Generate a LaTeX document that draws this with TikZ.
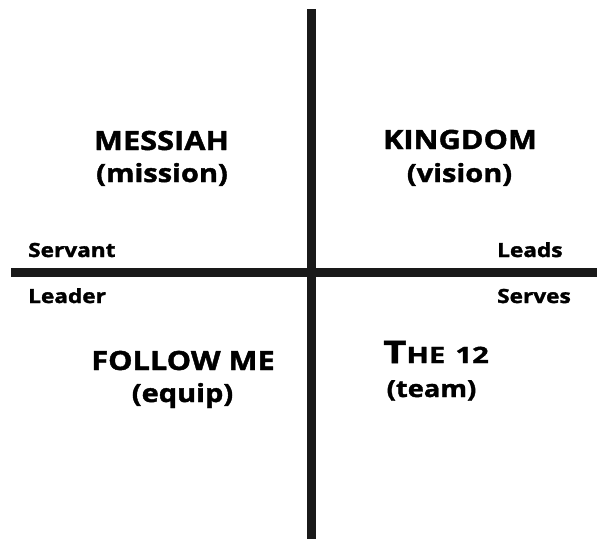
\documentclass[tikz,border=0pt]{standalone}
\usepackage{fontspec}
\setmainfont{Open Sans}
\newfontfamily\heavyfont[FakeStretch=1.16, FakeBold=1.6]{Open Sans}
\newfontfamily\widefont[FakeStretch=1.3, FakeBold=1.6]{Open Sans}
\usetikzlibrary{positioning}

\begin{document}
\begin{tikzpicture}
% Style
[
    x=1pt, y=-1pt, line cap=butt,
    axis line/.style={line width=9.5pt, draw=black!90},
    title text/.style={font=\heavyfont\bfseries\fontsize{26.5}{26.5}\selectfont, inner sep=0pt, anchor=base},
    sub text/.style={font=\heavyfont\bfseries\fontsize{25}{25}\selectfont, inner sep=0pt, anchor=base},
    side text/.style={font=\heavyfont\bfseries\fontsize{19.5}{19.5}\selectfont, inner sep=0pt, anchor=base west}
]

% Define: Params
\newcommand{\crossx}{311.5} %vertical_x
\newcommand{\crossy}{272.5} %horizontal_y

%================================== Frame ==================================
\useasboundingbox (0,0) rectangle (597,539);

%================================== Axes ===================================
{
    \coordinate (top end) at (\crossx,9);
    \coordinate (bottom end) at (\crossx,539);
    \coordinate (left end) at (11,\crossy);
    \coordinate (right end) at (597,\crossy);
    \draw[axis line] (top end)--(bottom end);
    \draw[axis line] (left end)--(right end);
}

%================================== Quadrants ==============================
{
    % Draw: top left
    \node[title text] (messiah) at (161.5,150) {MESSIAH};
    \node[sub text] (mission) at (162,182) {(mission)};

    % Draw: top right
    \node[title text] (kingdom) at (460,149) {KINGDOM};
    \node[sub text] (vision) at (459.5,182) {(vision)};

    % Draw: bottom left
    \node[title text] (followme) at (183,370) {FOLLOW ME};
    \node[sub text] (equip) at (182.5,402) {(equip)};

    % Draw: bottom right
    \node[title text, anchor=base west, font=\widefont\bfseries] (thetwelve) at (383,363)
        {{\fontsize{31}{31}\selectfont T}{\fontsize{22.5}{22.5}\selectfont HE\hspace{0.45em}12}};
    \node[sub text, font=\heavyfont\bfseries\fontsize{23.5}{23.5}\selectfont] (team) at (431.5,397) {(team)};
}

%================================== Sides ==================================
{
    \node[side text] (servant) at (28,257) {Servant};
    \node[side text] (leader) at (28,303) {Leader};
    \node[side text] (leads) at (497,257) {Leads};
    \node[side text] (serves) at (497,303) {Serves};
}
%==================================== END ==================================

\end{tikzpicture}
\end{document}
